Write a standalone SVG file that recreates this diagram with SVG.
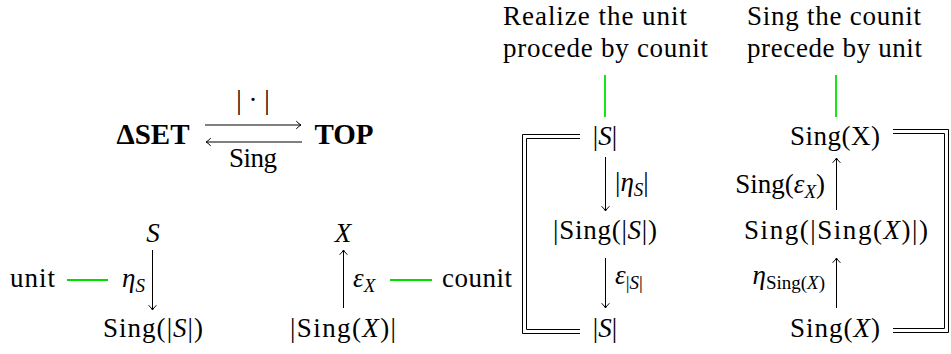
<svg xmlns="http://www.w3.org/2000/svg" width="951" height="354" viewBox="0 0 951 354">
<defs>
<style>
.t{font-family:"Liberation Serif","Times New Roman",serif;font-size:27px;fill:#000}
.i{font-style:italic}
.b{font-weight:bold;font-size:29px}
.s{font-size:19px}
.ln{stroke:#000;stroke-width:1;fill:none}
.ar{marker-end:url(#ah)}
.g{stroke:#00e000;stroke-width:1.8;fill:none}
</style>
<marker id="ah" markerWidth="7" markerHeight="10" viewBox="-6 -5 7 10" refX="0" refY="0" orient="auto" markerUnits="userSpaceOnUse">
<path d="M-4.5,-3.6 Q-1.6,-0.7 0,0 Q-1.6,0.7 -4.5,3.6" fill="none" stroke="#000" stroke-width="1" stroke-linecap="round"/>
</marker>
</defs>
<rect width="951" height="354" fill="#fff"/>

<g id="connectors">
<path class="ln ar" d="M205,125 H301"/>
<path class="ln ar" d="M302,142 H206"/>
<path class="ln ar" d="M152.5,250 V310"/>
<path class="ln ar" d="M343.5,308 V250"/>
<path class="ln ar" d="M605.5,157 V211"/>
<path class="ln ar" d="M605.5,258 V308"/>
<path class="ln ar" d="M836.5,210 V158"/>
<path class="ln ar" d="M836.5,308 V258"/>
<path class="ln" d="M580,134.5 H522.5 V333.5 H580"/>
<path class="ln" d="M580,138.5 H526.5 V329.5 H580"/>
<path class="ln" d="M893,129.5 H948.5 V332.5 H893"/>
<path class="ln" d="M893,133.5 H944.5 V328.5 H893"/>
<path class="g" d="M67,280 H108"/>
<path class="g" d="M390,280 H432"/>
<path class="g" d="M605,75 V117"/>
<path class="g" d="M836,75 V117"/>
</g>

<g id="adjunction">
<text class="t b" x="153" y="144" text-anchor="middle">ΔSET</text>
<text class="t b" x="344" y="144" text-anchor="middle">TOP</text>
<text class="t" x="253" y="109" text-anchor="middle">| · |</text>
<text class="t" x="253" y="167" text-anchor="middle" textLength="48" lengthAdjust="spacing">Sing</text>
</g>

<g id="unit-square">
<text class="t i" x="153" y="242" text-anchor="middle">S</text>
<text class="t" x="153" y="337" text-anchor="middle" textLength="100" lengthAdjust="spacing">Sing(|<tspan class="i">S</tspan>|)</text>
<text class="t" x="145" y="287" text-anchor="end"><tspan class="i">η</tspan><tspan class="i s" dy="5">S</tspan></text>
<text class="t" x="10" y="287" textLength="45" lengthAdjust="spacing">unit</text>
</g>

<g id="counit-square">
<text class="t i" x="343" y="242" text-anchor="middle">X</text>
<text class="t" x="343" y="337" text-anchor="middle" textLength="106" lengthAdjust="spacing">|Sing(<tspan class="i">X</tspan>)|</text>
<text class="t" x="353" y="287"><tspan class="i">ε</tspan><tspan class="i s" dy="5">X</tspan></text>
<text class="t" x="442" y="287" textLength="70" lengthAdjust="spacing">counit</text>
</g>

<g id="triangle-1">
<text class="t" x="503" y="25" textLength="184" lengthAdjust="spacing">Realize the unit</text>
<text class="t" x="503" y="57" textLength="205" lengthAdjust="spacing">procede by counit</text>
<text class="t" x="605" y="145" text-anchor="middle">|<tspan class="i">S</tspan>|</text>
<text class="t" x="605" y="239" text-anchor="middle" textLength="104" lengthAdjust="spacing">|Sing(|<tspan class="i">S</tspan>|)</text>
<text class="t" x="605" y="337" text-anchor="middle">|<tspan class="i">S</tspan>|</text>
<text class="t" x="615" y="191">|<tspan class="i">η</tspan><tspan class="i s" dy="5">S</tspan><tspan dy="-5">|</tspan></text>
<text class="t" x="615" y="284"><tspan class="i">ε</tspan><tspan class="s" dy="5">|<tspan class="i">S</tspan>|</tspan></text>
</g>

<g id="triangle-2">
<text class="t" x="747" y="25" textLength="174" lengthAdjust="spacing">Sing the counit</text>
<text class="t" x="747" y="57" textLength="175" lengthAdjust="spacing">precede by unit</text>
<text class="t" x="835" y="145" text-anchor="middle" textLength="90" lengthAdjust="spacing">Sing(X)</text>
<text class="t" x="836" y="239" text-anchor="middle" textLength="184" lengthAdjust="spacing">Sing(|Sing(<tspan class="i">X</tspan>)|)</text>
<text class="t" x="835" y="337" text-anchor="middle" textLength="90" lengthAdjust="spacing">Sing(<tspan class="i">X</tspan>)</text>
<text class="t" x="825" y="193" text-anchor="end">Sing(<tspan class="i">ε</tspan><tspan class="i s" dy="5">X</tspan><tspan dy="-5">)</tspan></text>
<text class="t" x="825" y="284" text-anchor="end"><tspan class="i">η</tspan><tspan class="s" dy="5">Sing(<tspan class="i">X</tspan>)</tspan></text>
</g>
</svg>
